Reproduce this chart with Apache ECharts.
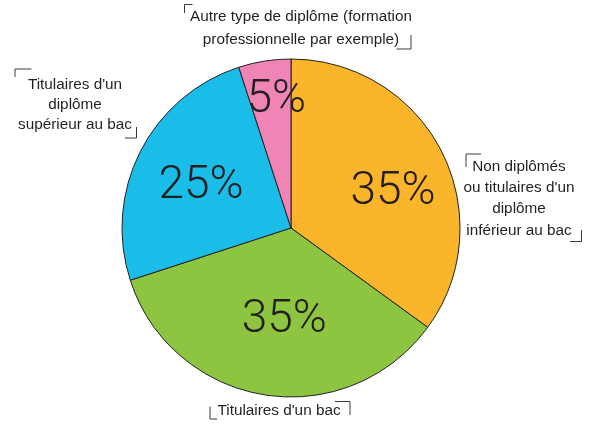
<!DOCTYPE html>
<html>
<head>
<meta charset="utf-8">
<script src="https://cdn.jsdelivr.net/npm/echarts@6/dist/echarts.min.js"></script>
<style>
  html, body { margin: 0; padding: 0; background: #fff; }
  #chart { width: 589px; height: 425px; }
</style>
</head>
<body>
<div id="chart"></div>
<script>
// parts of the population by diploma, clockwise from the top
const categories = [
  "Non diplômés ou titulaires d'un diplôme inférieur au bac",
  "Titulaires d'un bac",
  "Titulaires d'un diplôme supérieur au bac",
  "Autre type de diplôme (formation professionnelle par exemple)"
];
const shares = [35, 35, 25, 5];
const captionLines = [
  ['Non diplômés', "ou titulaires d'un", 'diplôme', 'inférieur au bac'],
  ["Titulaires d'un bac"],
  ["Titulaires d'un", 'diplôme', 'supérieur au bac'],
  ['Autre type de diplôme (formation', 'professionnelle par exemple)']
];
const colors = ['#FBB52B', '#8DC540', '#19BDE8', '#EF84B5'];

// where the percent labels sit relative to ECharts' default inside spot
const labelNudge = [[24, 4], [7, 6], [-12, -2], [-1, -41]];

// caption boxes: centre x, top y, line height
const captionPos = [
  { x: 519, y: 156, lh: 21.3 },
  { x: 279, y: 400.5, lh: 20 },
  { x: 75, y: 74.5, lh: 20 },
  { x: 301, y: 6, lh: 22.5 }
];
// small corner brackets around each caption
const brackets = [
  [[[481, 154], [466, 154], [466, 167]], [[570, 241.5], [581.5, 241.5], [581.5, 230]]],
  [[[210, 406.5], [210, 419], [217, 419]], [[335, 401.5], [350, 401.5], [350, 415]]],
  [[[31.5, 69], [15, 69], [15, 77]], [[125, 138], [136.5, 138], [136.5, 127]]],
  [[[192.5, 4.5], [184.5, 4.5], [184.5, 13]], [[396.5, 49], [411, 49], [411, 35]]]
];

const ink = '#231f20';
const chart = echarts.init(document.getElementById('chart'), null, { renderer: 'canvas' });

const graphic = [];
captionLines.forEach((lines, i) => {
  const p = captionPos[i];
  graphic.push({
    type: 'text', x: p.x, y: p.y, silent: true,
    style: {
      text: lines.join('\n'), fill: ink,
      font: '15.3px "Liberation Sans", Arial, sans-serif',
      lineHeight: p.lh, align: 'center', verticalAlign: 'top'
    }
  });
  brackets[i].forEach(pts => {
    graphic.push({
      type: 'polyline', silent: true,
      shape: { points: pts },
      style: { stroke: '#3a3a3a', lineWidth: 1, fill: null }
    });
  });
});

chart.setOption({
  animation: false,
  color: colors,
  graphic: graphic,
  series: [{
    type: 'pie',
    center: [291, 228],
    radius: 169,
    startAngle: 90,
    clockwise: true,
    percentPrecision: 0,
    silent: true,
    data: categories.map((name, i) => ({ name, value: shares[i] })),
    itemStyle: { borderColor: ink, borderWidth: 1 },
    label: {
      position: 'inside',
      formatter: '{d}%',
      color: ink,
      fontFamily: 'Roboto',
      fontWeight: 300,
      fontSize: 46
    },
    labelLine: { show: false },
    labelLayout: params => {
      const n = labelNudge[params.dataIndex];
      return { dx: n[0], dy: n[1] };
    }
  }]
});
</script>
</body>
</html>
